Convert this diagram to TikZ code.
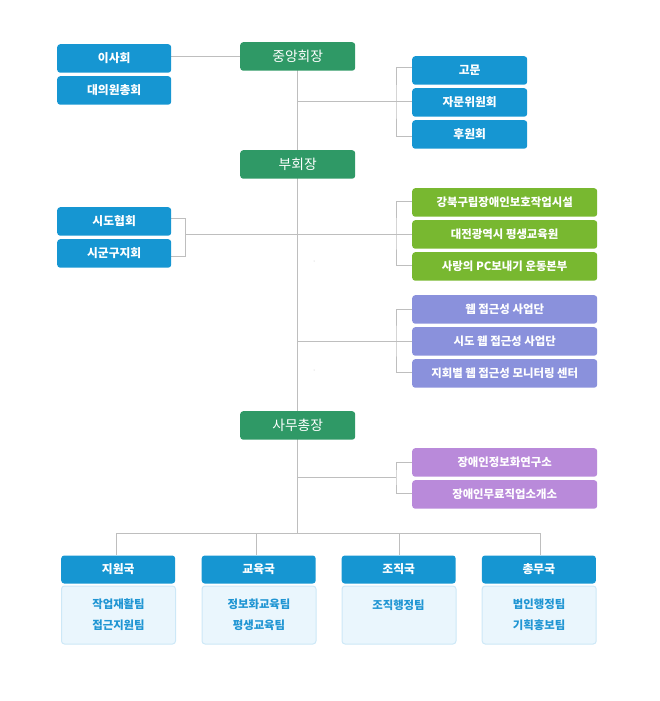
\documentclass[tikz,border=0pt]{standalone}
\usepackage{fontspec}
\usetikzlibrary{backgrounds}
\newfontfamily\kr{Noto Sans CJK KR}
\definecolor{cblue}{HTML}{1696D2}
\definecolor{cgreen}{HTML}{2F9966}
\definecolor{clgreen}{HTML}{78B830}
\definecolor{cperi}{HTML}{8A91DC}
\definecolor{cviolet}{HTML}{B98ADA}
\definecolor{cbody}{HTML}{EAF6FD}
\definecolor{cbodyb}{HTML}{CDE8F7}
\definecolor{cbtext}{HTML}{1F95D3}
\definecolor{cline}{HTML}{BEBEBE}
\tikzset{
  x=1pt,y=1pt,
  boxbase/.style={rounded corners=3pt, inner sep=0pt, anchor=north west, minimum height=28.5pt, text=white,
    font=\kr\bfseries\fontsize{11.8}{13}\selectfont},
  bluebox/.style={boxbase, fill=cblue, minimum width=114pt},
  headbox/.style={boxbase, fill=cgreen, minimum width=115pt, font=\kr\fontsize{13.8}{15}\selectfont},
  wideg/.style={boxbase, fill=clgreen, minimum width=185pt, font=\kr\bfseries\fontsize{11.4}{13}\selectfont},
  widep/.style={boxbase, fill=cperi, minimum width=185pt, font=\kr\bfseries\fontsize{11.4}{13}\selectfont},
  widev/.style={boxbase, fill=cviolet, minimum width=185pt, font=\kr\bfseries\fontsize{11.4}{13}\selectfont},
  depthead/.style={boxbase, fill=cblue, minimum width=114pt, minimum height=28pt},
  deptbody/.style={rounded corners=3pt, inner sep=0pt, anchor=north west, minimum width=114pt, minimum height=58pt,
    fill=cbody, draw=cbodyb, line width=1pt, text=cbtext, align=center,
    font=\kr\bfseries\fontsize{11.4}{21}\selectfont},
  conn/.style={draw=cline, line width=1pt},
}
\begin{document}
\begin{tikzpicture}
\useasboundingbox (0,0) rectangle (660,-701);
% nodes
\node[bluebox] (isa) at (57,-44) {이사회};
\node[bluebox] (daeui) at (57,-76) {대의원총회};
\node[headbox] (jung) at (240,-42) {중앙회장};
\node[bluebox, minimum width=115pt] (go) at (412,-56) {고문};
\node[bluebox, minimum width=115pt] (jamun) at (412,-88) {자문위원회};
\node[bluebox, minimum width=115pt] (huwon) at (412,-120) {후원회};
\node[headbox] (bu) at (240,-150) {부회장};
\node[bluebox] (sido) at (57,-207) {시도협회};
\node[bluebox] (sigungu) at (57,-239) {시군구지회};
\node[wideg] (g1) at (412,-188) {강북구립장애인보호작업시설};
\node[wideg] (g2) at (412,-220) {대전광역시 평생교육원};
\node[wideg] (g3) at (412,-252) {사랑의 PC보내기 운동본부};
\node[widep] (p1) at (412,-295) {웹 접근성 사업단};
\node[widep] (p2) at (412,-327) {시도 웹 접근성 사업단};
\node[widep] (p3) at (412,-359) {지회별 웹 접근성 모니터링 센터};
\node[headbox] (samu) at (240,-411) {사무총장};
\node[widev] (v1) at (412,-448) {장애인정보화연구소};
\node[widev] (v2) at (412,-480) {장애인무료직업소개소};
\node[depthead] (h1) at (61,-555.3) {지원국};
\node[depthead] (h2) at (201.5,-555.3) {교육국};
\node[depthead] (h3) at (341.5,-555.3) {조직국};
\node[depthead] (h4) at (481.7,-555.3) {총무국};
\node[deptbody] (k1) at (61,-585.5) {작업재활팀\\접근지원팀};
\node[deptbody] (k2) at (201.5,-585.5) {정보화교육팀\\평생교육팀};
\node[deptbody] (k3) at (341.5,-585.5) {};
\node[text=cbtext, font=\kr\bfseries\fontsize{11.4}{13}\selectfont] (k3t) at (398.5,-605) {조직행정팀};
\node[deptbody] (k4) at (481.7,-585.5) {법인행정팀\\기획홍보팀};
% coordinates
\coordinate (tt) at (297.7,-56);
\coordinate (t1) at (297.7,-101.7);
\coordinate (t4) at (297.7,-341.3);
\coordinate (t5) at (297.7,-477);
\coordinate (bus) at (297.7,-533.3);
\coordinate (b1) at (396,-101.7);
\coordinate (b2) at (396,-234);
\coordinate (b3) at (396,-341.3);
\coordinate (b4) at (396,-477);
\coordinate (bl) at (185.7,-234);
\coordinate (d1) at (116,-533.3);
\coordinate (d2) at (256.7,-533.3);
\coordinate (d3) at (399.3,-533.3);
\coordinate (d4) at (540.7,-533.3);
% tiny marks
\fill[cline] (314,-261) circle (0.5);
\fill[cline] (314,-370) circle (0.5);
% connectors (behind boxes)
\begin{scope}[on background layer]
\path[conn] (jung.west) -- (jung.west -| isa.east);
\path[conn] (tt) -- (bus);
\path[conn] (t1) -- (t1 -| jamun.west);
\path[conn] ([yshift=3pt]go.west) -| (b1) |- ([yshift=-2.5pt]huwon.west);
\path[conn] ([yshift=3pt]sido.east) -| (bl) |- ([yshift=-3pt]sigungu.east);
\path[conn] (bl) -- (bl -| g2.west);
\path[conn] ([yshift=1pt]g1.west) -| (b2) |- ([yshift=1pt]g3.west);
\path[conn] (t4) -- (t4 -| p2.west);
\path[conn] (p1.west) -| (b3) |- ([yshift=1pt]p3.west);
\path[conn] (t5) -- (b4);
\path[conn] (v1.west) -| (b4) |- ([yshift=0.5pt]v2.west);
\path[conn] (d1) -- (d4);
\path[conn] (d1) -- (d1 |- h1.north);
\path[conn] (d2) -- (d2 |- h2.north);
\path[conn] (d3) -- (d3 |- h3.north);
\path[conn] (d4) -- (d4 |- h4.north);
\end{scope}
\end{tikzpicture}
\end{document}
